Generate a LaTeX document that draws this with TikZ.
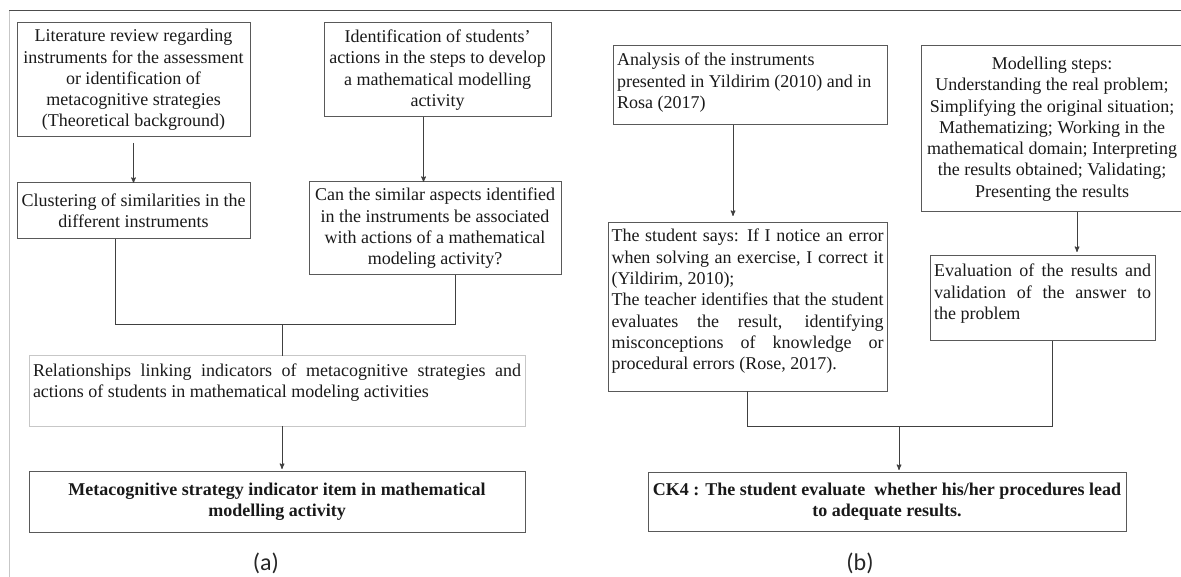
\documentclass[tikz,border=0pt]{standalone}
\usepackage{fontspec}
\setmainfont{Liberation Serif}
\newfontfamily\capfont{Carlito}
\usetikzlibrary{arrows,positioning}

\begin{document}
\begin{tikzpicture}
	[x=1pt,y=-1pt,>=stealth',line width=1pt,
		font=\fontsize{18}{21.3}\selectfont,color=black!90,
		base box/.style={draw=black!65,rectangle,outer sep=0pt,inner xsep=4pt,inner ysep=4pt},
		mid box/.style={base box,align=center},
		left box/.style={base box,align=flush left},
		just box/.style={base box,align=justify},
		bold box/.style={mid box,font=\fontsize{18}{21.3}\selectfont\bfseries},
		link/.style={draw=black!75,line width=1pt},
		tip/.style={link,->},
		sub label/.style={font=\fontsize{24}{28}\capfont,text=black!85}]

	\useasboundingbox (0,0) rectangle (1181,577);
	\draw[black!70] (9,11) -- (1181,11);
	\draw[black!22] (9,11) -- (9,577);

	\node[mid box, minimum width=233pt, minimum height=114pt, anchor=north west] (lit) at (17,23)
		{Literature review regarding\\instruments for the assessment\\or identification of\\metacognitive strategies\\(Theoretical background)};
	\node[mid box, minimum width=233pt, minimum height=56pt] (clust) [below=46pt of lit]
		{Clustering of similarities in the\\different instruments};
	\node[mid box, minimum width=227pt, minimum height=94pt, anchor=north west] (ident) at (324,23)
		{Identification of students'\\actions in the steps to develop\\a mathematical modelling\\activity};
	\node[mid box, minimum width=252pt, minimum height=93pt] (similar) [below=65pt of ident, xshift=-2.5pt]
		{Can the similar aspects identified\\in the instruments be associated\\with actions of a mathematical\\modeling activity?};
	\node[just box, draw=black!22, text width=488pt, text height=16pt, text depth=46pt, anchor=north west] (relat) at (29,356)
		{Relationships linking indicators of metacognitive strategies and\linebreak actions of students in mathematical modeling activities};
	\node[bold box, minimum width=496pt, minimum height=61pt] (item) [below=45pt of relat]
		{Metacognitive strategy indicator item in mathematical\\modelling activity};
	\node[sub label] (capA) at (266,563) {(a)};

	\node[left box, text width=266pt, text height=16pt, text depth=55pt, anchor=north west] (analysis) at (613,46)
		{Analysis of the instruments\\presented in Yildirim (2010) and in\\Rosa (2017)};
	\node[just box, inner xsep=3.5pt, text width=272pt, text height=15pt, text depth=145pt] (says) [below=98pt of analysis, xshift=-2.5pt]
		{The student says: If I notice an error\linebreak when solving an exercise, I correct it\linebreak (Yildirim, 2010);\\The teacher identifies that the student\linebreak evaluates the result, identifying\linebreak misconceptions of knowledge or\linebreak procedural errors (Rose, 2017).};
	\node[mid box, minimum width=262pt, minimum height=166pt, anchor=north west] (steps) at (921,46)
		{Modelling steps:\\Understanding the real problem;\\Simplifying the original situation;\\Mathematizing; Working in the\\mathematical domain; Interpreting\\the results obtained; Validating;\\Presenting the results};
	\node[just box, text width=217pt, text height=17pt, text depth=60pt] (eval) [below=44pt of steps, xshift=-9.5pt]
		{Evaluation of the results and\linebreak validation of the answer to\linebreak the problem};
	\node[bold box, minimum width=478pt, minimum height=59pt] (ck4) at (887,501.5)
		{CK4 : The student evaluate\ \ whether his/her procedures lead\\to adequate results.};
	\node[sub label] (capB) at (860,563) {(b)};

	\coordinate (joinA) at (282,325);
	\coordinate (joinB) at (899,426);

	\draw[tip, shorten <=6pt] (lit) -- (clust);
	\draw[tip] ([xshift=-14pt]ident.south) -- ([xshift=-14pt]ident.south |- similar.north);
	\draw[link] ([xshift=-18pt]clust.south) |- ([xshift=20pt]similar.south |- joinA) -- ([xshift=20pt]similar.south);
	\draw[link] (joinA) -- (joinA |- relat.north);
	\draw[tip, shorten >=2pt] (joinA |- relat.south) -- (joinA |- item.north);

	\draw[tip, shorten >=7pt] ([xshift=-17pt]analysis.south) -- ([xshift=-17pt]analysis.south |- says.north);
	\draw[tip, shorten >=4pt] ([xshift=25pt]steps.south) -- ([xshift=25pt]steps.south |- eval.north);
	\draw[link] (says.south) |- ([xshift=9.5pt]eval.south |- joinB) -- ([xshift=9.5pt]eval.south);
	\draw[tip, shorten >=2pt] (joinB) -- (joinB |- ck4.north);

\end{tikzpicture}
\end{document}
